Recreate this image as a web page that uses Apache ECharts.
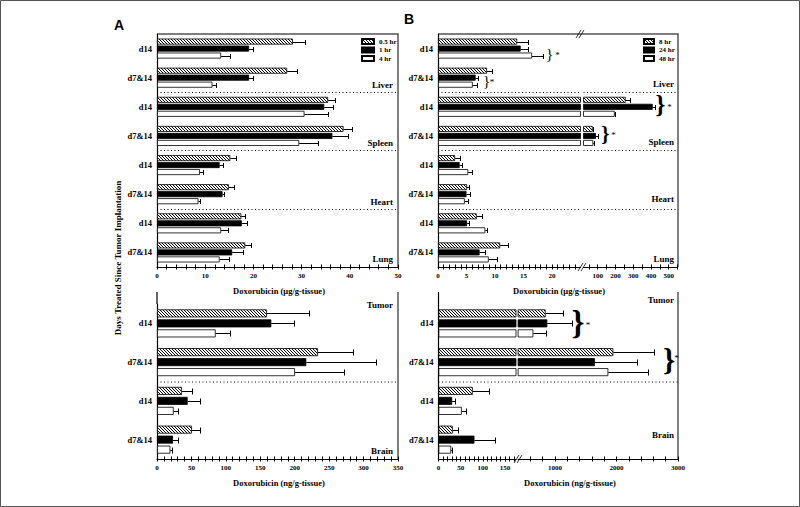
<!DOCTYPE html>
<html><head><meta charset="utf-8">
<script src="https://cdn.jsdelivr.net/npm/echarts@6/dist/echarts.min.js"></script>
<style>html,body{margin:0;padding:0;background:#fff}#c{width:800px;height:507px}</style>
</head><body><div id="c"></div>
<script>
// ---------------- data ----------------
const topCategories = ['d14', 'd7&14', 'd14', 'd7&14', 'd14', 'd7&14', 'd14', 'd7&14'];
const topOrgans = ['Liver', 'Spleen', 'Heart', 'Lung'];
const bottomCategories = ['d14', 'd7&14', 'd14', 'd7&14'];
const bottomOrgans = ['Tumor', 'Brain'];
const seriesNamesA = ['0.5 hr', '1 hr', '4 hr'];
const seriesNamesB = ['8 hr', '24 hr', '48 hr'];

// Panel A, tissues (μg/g-tissue): Liver d14, Liver d7&14, Spleen d14, Spleen d7&14, Heart d14, Heart d7&14, Lung d14, Lung d7&14
const aTop05 = [28.2, 27.0, 35.5, 38.7, 15.2, 14.9, 17.5, 18.3];
const aTop05Sd = [2.6, 2.0, 1.4, 1.7, 1.1, 1.0, 0.8, 1.2];
const aTop1 = [19.1, 19.1, 34.7, 36.4, 13.0, 13.6, 17.6, 15.6];
const aTop1Sd = [0.9, 0.9, 1.9, 3.3, 0.7, 0.3, 1.0, 2.2];
const aTop4 = [13.3, 11.5, 30.6, 29.5, 8.9, 8.6, 13.3, 13.0];
const aTop4Sd = [1.8, 0.7, 4.9, 4.0, 0.6, 0.3, 1.5, 2.0];
// Panel A, Tumor d14, Tumor d7&14, Brain d14, Brain d7&14 (ng/g-tissue)
const aBot05 = [159.7, 233.8, 36.3, 50.8];
const aBot05Sd = [61.0, 50.8, 14.5, 11.2];
const aBot1 = [166.0, 216.8, 44.5, 23.2];
const aBot1Sd = [32.5, 100.7, 18.4, 7.3];
const aBot4 = [85.2, 200.4, 24.2, 19.4];
const aBot4Sd = [20.3, 71.1, 6.3, 2.9];
// Panel B, tissues (μg/g-tissue)
const bTop8 = [13.9, 8.6, 258, 72, 3.0, 5.1, 6.8, 10.9];
const bTop8Sd = [1.9, 0.8, 26, 3, 0.8, 0.3, 0.9, 1.4];
const bTop24 = [14.5, 6.6, 410, 90, 3.8, 5.0, 5.1, 7.3];
const bTop24Sd = [1.3, 0.4, 15, 13, 0.4, 0.6, 0.3, 0.9];
const bTop48 = [16.5, 6.1, 196, 75, 5.3, 4.7, 8.3, 8.9];
const bTop48Sd = [2.0, 0.7, 4, 4, 0.7, 0.6, 0.3, 1.5];
// Panel B, Tumor / Brain (ng/g-tissue)
const bBot8 = [848, 1948, 77.4, 32.3];
const bBot8Sd = [287, 667, 36.1, 11.3];
const bBot24 = [875, 1650, 30.8, 81.2];
const bBot24Sd = [407, 689, 6.8, 47.4];
const bBot48 = [648, 1867, 52.6, 28.6];
const bBot48Sd = [200, 651, 9.8, 1.4];

// tick values
const range = (a, b, s) => { const r = []; for (let v = a; v <= b + 1e-9; v += s) r.push(+v.toFixed(6)); return r; };
const aTopTicks = range(0, 50, 2), aTopLabels = range(0, 50, 10);
const aBotTicks = range(0, 350, 10), aBotLabels = range(0, 350, 50);
const b1TopTicks = range(0, 24, 1), b1TopLabels = [0, 5, 10, 15, 20];
const b2TopTicks = range(50, 550, 50), b2TopLabels = [100, 200, 300, 400, 500];
const b1BotTicks = range(0, 170, 10), b1BotLabels = [0, 50, 100, 150];
const b2BotTicks = range(600, 3000, 200), b2BotLabels = [1000, 2000, 3000];

// ---------------- styles ----------------
const SERIF = '"Liberation Serif", "Times New Roman", serif';
const hatch = (function () {
  const c = document.createElement('canvas'); c.width = 3; c.height = 3;
  const g = c.getContext('2d');
  g.fillStyle = '#fff'; g.fillRect(0, 0, 3, 3);
  g.strokeStyle = '#000'; g.lineWidth = 1;
  g.beginPath(); g.moveTo(0, 0); g.lineTo(3, 3); g.moveTo(-1, 2); g.lineTo(1, 4); g.moveTo(2, -1); g.lineTo(4, 1); g.stroke();
  return c;
})();
const barStyles = [
  { color: { image: hatch, repeat: 'repeat' }, borderColor: '#000', borderWidth: 0.8 },
  { color: '#000', borderColor: '#000', borderWidth: 0.8 },
  { color: '#fff', borderColor: '#000', borderWidth: 0.8 }
];

const G = {
  aTop: { left: 157, top: 34, width: 241, height: 233 },
  aBot: { left: 157, top: 304, width: 241, height: 155 },
  b1Top: { left: 438, top: 34, width: 142.5, height: 233 },
  b2Top: { left: 583.5, top: 34, width: 94, height: 233 },
  b1Bot: { left: 438.5, top: 304, width: 77.5, height: 155 },
  b2Bot: { left: 518.1, top: 304, width: 159.9, height: 155 }
};
const gridKeys = ['aTop', 'aBot', 'b1Top', 'b2Top', 'b1Bot', 'b2Bot'];
const grids = gridKeys.map(k => Object.assign({ containLabel: false }, G[k]));

const xAxis = [], yAxis = [], series = [];
function addXAxes(gi, min, max, ticks, labels) {
  const base = { type: 'value', gridIndex: gi, min, max, position: 'bottom', splitLine: { show: false } };
  xAxis.push(Object.assign({}, base, {
    axisLine: { show: true, lineStyle: { color: '#000', width: 1 } },
    axisTick: { show: true, inside: true, length: 2.5, customValues: ticks, lineStyle: { color: '#000', width: 1 } },
    axisLabel: { show: true, customValues: labels, formatter: (v) => String(v), margin: 5, fontSize: 7, fontWeight: 'bold', fontFamily: SERIF, color: '#000' }
  }));
  xAxis.push(Object.assign({}, base, {
    axisLine: { show: false },
    axisTick: { show: true, inside: false, length: 2.5, customValues: ticks, lineStyle: { color: '#000', width: 1 } },
    axisLabel: { show: false }
  }));
  return xAxis.length - 2;
}
function addYAxis(gi, cats, seps, showLine) {
  yAxis.push({
    type: 'category', gridIndex: gi, data: cats, inverse: true,
    axisLine: { show: showLine, lineStyle: { color: '#000', width: 1.2 } },
    axisTick: { show: false },
    axisLabel: { show: showLine, fontSize: 8.5, fontWeight: 'bold', fontFamily: SERIF, color: '#000', margin: 5 },
    splitLine: { show: seps.length > 1, interval: (i) => seps.indexOf(i) >= 0, lineStyle: { color: '#000', type: [1, 2.5], width: 1 } }
  });
  return yAxis.length - 1;
}
function addPanel(xi, yi, names, vals, sds, bw, gap, capH, keep) {
  vals.forEach((arr, k) => {
    series.push({
      type: 'bar', name: names[k], xAxisIndex: xi, yAxisIndex: yi,
      data: arr.map((v, i) => keep.bar(v, sds[k][i]) ? v : '-'),
      barWidth: bw, barGap: (gap / bw * 100) + '%', clip: true,
      itemStyle: barStyles[k], emphasis: { disabled: true }, animation: false
    });
  });
  vals.forEach((arr, k) => {
    series.push({
      type: 'custom', name: 'err' + names[k], xAxisIndex: xi, yAxisIndex: yi, z: 5, animation: false, silent: true,
      data: arr.map((v, i) => keep.err(v, sds[k][i]) ? [v, sds[k][i], i] : [NaN, NaN, i]),
      encode: { x: 0, y: 2 },
      renderItem: function (params, api) {
        const v = api.value(0), sd = api.value(1), ci = api.value(2);
        if (isNaN(v)) return null;
        const p0 = api.coord([v, ci]), p1 = api.coord([v + sd, ci]);
        const y = Math.round(p0[1] + (k - 1) * (bw + gap)) + 0.5;
        const xe = Math.round(p1[0]) + 0.5;
        return { type: 'group', children: [
          { type: 'line', shape: { x1: p0[0], y1: y, x2: xe, y2: y }, style: { stroke: '#000', lineWidth: 1 } },
          { type: 'line', shape: { x1: xe, y1: y - capH, x2: xe, y2: y + capH }, style: { stroke: '#000', lineWidth: 1 } }
        ] };
      }
    });
  });
}
const all = { bar: () => true, err: () => true };
// Panel A
let xi = addXAxes(0, 0, 50, aTopTicks, aTopLabels), yi = addYAxis(0, topCategories, [2, 4, 6], true);
addPanel(xi, yi, seriesNamesA, [aTop05, aTop1, aTop4], [aTop05Sd, aTop1Sd, aTop4Sd], 6, 1, 2.5, all);
xi = addXAxes(1, 0, 350, aBotTicks, aBotLabels); yi = addYAxis(1, bottomCategories, [2], true);
addPanel(xi, yi, seriesNamesA, [aBot05, aBot1, aBot4], [aBot05Sd, aBot1Sd, aBot4Sd], 8, 2, 3, all);
// Panel B (broken axes: two segments each)
const B1T_MAX = 25, B2T_MIN = 20, B1B_MAX = 175, B2B_MIN = 400;
xi = addXAxes(2, 0, B1T_MAX, b1TopTicks, b1TopLabels); yi = addYAxis(2, topCategories, [2, 4, 6], true);
addPanel(xi, yi, seriesNamesB, [bTop8, bTop24, bTop48], [bTop8Sd, bTop24Sd, bTop48Sd], 6, 1, 2.5,
  { bar: () => true, err: (v, s) => v + s <= B1T_MAX });
xi = addXAxes(3, B2T_MIN, 550, b2TopTicks, b2TopLabels); yi = addYAxis(3, topCategories, [2, 4, 6], false);
addPanel(xi, yi, seriesNamesB, [bTop8, bTop24, bTop48], [bTop8Sd, bTop24Sd, bTop48Sd], 6, 1, 2.5,
  { bar: (v) => v > B2T_MIN, err: (v) => v > B2T_MIN });
xi = addXAxes(4, 0, B1B_MAX, b1BotTicks, b1BotLabels); yi = addYAxis(4, bottomCategories, [2], true);
addPanel(xi, yi, seriesNamesB, [bBot8, bBot24, bBot48], [bBot8Sd, bBot24Sd, bBot48Sd], 8, 2, 3,
  { bar: () => true, err: (v, s) => v + s <= B1B_MAX });
xi = addXAxes(5, B2B_MIN, 3000, b2BotTicks, b2BotLabels); yi = addYAxis(5, bottomCategories, [2], false);
addPanel(xi, yi, seriesNamesB, [bBot8, bBot24, bBot48], [bBot8Sd, bBot24Sd, bBot48Sd], 8, 2, 3,
  { bar: (v) => v > B2B_MIN, err: (v) => v > B2B_MIN });

// ---------------- decorations ----------------
const txt = (x, y, text, o, extra) => Object.assign({ type: 'text', x, y, silent: true, style: Object.assign({ text, fill: '#000', fontFamily: SERIF, fontWeight: 'bold', fontSize: 9, align: 'center', verticalAlign: 'middle' }, o || {}) }, extra || {});
const line = (pts, o) => ({ type: 'polyline', silent: true, shape: { points: pts }, style: Object.assign({ stroke: '#000', lineWidth: 1, fill: null }, o || {}) });
const frame = { stroke: '#555', lineWidth: 1.5 };
const dotted = { lineDash: [1, 2.5], lineWidth: 1 };
const brk = (x, y) => [line([[x - 4, y + 4], [x + 1, y - 4]], { lineWidth: 0.8 }), line([[x - 1, y + 4], [x + 4, y - 4]], { lineWidth: 0.8 })];
const midBottom = G.aBot.top + G.aBot.height / 2; // boundary between Tumor and Brain groups
const star = { fontSize: 9, fontWeight: 'normal' };
const graphic = [
  { type: 'rect', silent: true, shape: { x: 0.5, y: 0.5, width: 799, height: 506 }, style: { fill: null, stroke: '#555', lineWidth: 1 } },
  line([[157, 34], [398, 34], [398, 267]], frame),
  line([[438, 34], [678, 34], [678, 267]], frame),
  line([[157, 292], [157, 304]], { lineWidth: 1.2 }), line([[398, 292], [398, 459]], frame),
  line([[438.5, 292], [438.5, 304]], { lineWidth: 1.2 }), line([[678, 292], [678, 459]], frame),
  line([[157, midBottom + 0.5], [398, midBottom + 0.5]], dotted),
  line([[438.5, midBottom + 0.5], [678, midBottom + 0.5]], dotted),
  ...brk(582, 267), ...brk(518, 459), ...brk(580, 34),
  txt(119, 25, 'A', { fontFamily: '"Liberation Sans", Arial, sans-serif', fontSize: 14 }),
  txt(409, 19, 'B', { fontFamily: '"Liberation Sans", Arial, sans-serif', fontSize: 14 }),
  txt(118, 258, 'Days Treated Since Tumor Implantation', { fontSize: 9 }, { rotation: Math.PI / 2 }),
  txt(279, 291, 'Doxorubicin (μg/g-tissue)', { fontSize: 8.5 }),
  txt(279, 483, 'Doxorubicin (ng/g-tissue)', { fontSize: 8.5 }),
  txt(559, 291, 'Doxorubicin (μg/g-tissue)', { fontSize: 8.5 }),
  txt(570, 483, 'Doxorubicin (ng/g-tissue)', { fontSize: 8.5 }),
  // organ labels
  txt(393, 85, topOrgans[0], { align: 'right' }), txt(393, 143, topOrgans[1], { align: 'right' }),
  txt(393, 202, topOrgans[2], { align: 'right' }), txt(393, 259, topOrgans[3], { align: 'right' }),
  txt(393, 305, bottomOrgans[0], { align: 'right' }), txt(393, 451, bottomOrgans[1], { align: 'right' }),
  txt(674, 84, topOrgans[0], { align: 'right' }), txt(674, 142, topOrgans[1], { align: 'right' }),
  txt(674, 199, topOrgans[2], { align: 'right' }), txt(674, 259, topOrgans[3], { align: 'right' }),
  txt(674, 300, bottomOrgans[0], { align: 'right' }), txt(674, 435, bottomOrgans[1], { align: 'right' }),
  // significance braces
  txt(549.5, 53.5, '}', { fontSize: 15, fontWeight: 'normal' }), txt(557.5, 55, '*', star),
  txt(486.5, 80.5, '}', { fontSize: 15, fontWeight: 'normal' }), txt(492, 82, '*', star),
  txt(660.5, 104.5, '}', { fontSize: 25 }), txt(669.5, 107, '*', star),
  txt(605.5, 133.5, '}', { fontSize: 21 }), txt(613.5, 135, '*', star),
  txt(578, 323, '}', { fontSize: 33 }), txt(588, 325, '*', star),
  txt(669, 359, '}', { fontSize: 31 }), txt(676.5, 358, '*', star)
];

const legendBase = { orient: 'vertical', itemWidth: 12, itemHeight: 5, itemGap: 1.5, icon: 'rect', selectedMode: false,
  textStyle: { fontSize: 7, fontWeight: 'bold', fontFamily: SERIF, color: '#000' }, padding: 0 };

const chart = echarts.init(document.getElementById('c'), null, { renderer: 'svg', width: 800, height: 507 });
chart.setOption({
  backgroundColor: '#fff',
  animation: false,
  grid: grids,
  xAxis, yAxis, series,
  legend: [
    Object.assign({}, legendBase, { data: seriesNamesA, left: 361, top: 38 }),
    Object.assign({}, legendBase, { data: seriesNamesB, left: 643, top: 38, itemWidth: 10 })
  ],
  graphic
});
</script></body></html>
